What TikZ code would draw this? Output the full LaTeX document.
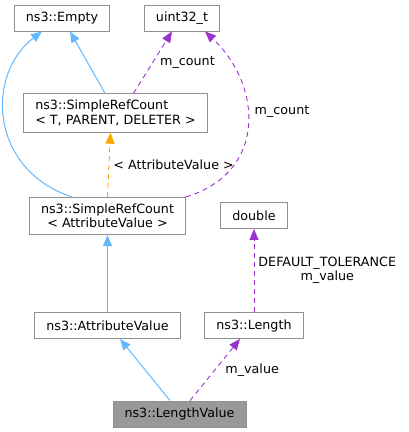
\documentclass[tikz,border=0pt]{standalone}
\usepackage{fontspec}
\setmainfont{DejaVu Sans}
\usepackage{tikz}
\usetikzlibrary{arrows.meta}
\usetikzlibrary{positioning}
\definecolor{boxline}{HTML}{8F8F8F}
\definecolor{inhblue}{HTML}{63B8FF}
\definecolor{usepurple}{HTML}{9A32CD}
\definecolor{tplorange}{HTML}{FFA500}
\definecolor{curgray}{HTML}{999999}
\tikzset{cls/.style={draw=boxline, line width=0.9pt, fill=white,
inner xsep=11.5pt, inner ysep=6.5pt, minimum height=26pt,
font=\fontsize{12.7}{14.3}\selectfont}}

\begin{document}
\begin{tikzpicture}[x=1pt, y=-1pt,
		inh/.style={draw=inhblue, line width=1pt, -{Triangle[length=11pt,width=9pt]}},
		memb/.style={draw=usepurple, line width=0.9pt, dash pattern=on 5pt off 4pt, -{Triangle[length=11pt,width=9pt]}},
		tpl/.style={draw=tplorange, line width=0.9pt, dash pattern=on 5pt off 4pt, -{Triangle[length=11pt,width=9pt]}},
		lbl/.style={font=\fontsize{12.7}{13.5}\selectfont, inner sep=1pt}]
	\useasboundingbox (0,0) rectangle (408,432);
	% classes
	\node[cls] (empty) at (62,18) {ns3::Empty};
	\node[cls] (uint) at (182,18) {uint32\_t};
	\node[cls, align=left] (srct) at (115.5,113) {ns3::SimpleRefCount\\< T, PARENT, DELETER >};
	\node[cls, align=center] (srca) at (107.5,216) {ns3::SimpleRefCount\\< AttributeValue >};
	\node[cls] (dbl) at (254,215.5) {double};
	\node[cls] (av) at (107.5,325.5) {ns3::AttributeValue};
	\node[cls] (len) at (254,325.5) {ns3::Length};
	\node[cls, fill=curgray] (lv) at (179.5,414) {ns3::LengthValue};
	% edges
	\draw[inh] ([xshift=-10.5pt]srct.north) -- ([xshift=8pt]empty.south);
	\draw[inh] ([xshift=-35.5pt]srca.north) .. controls (-10,170) and (-15,75) .. ([xshift=-20pt]empty.south);
	\draw[memb] ([xshift=18pt]srct.north) -- node[lbl, right=6pt] {m\_count} ([xshift=-10pt]uint.south);
	\draw[memb] (srca.north east) .. controls (268,172) and (262,85) .. node[lbl, pos=0.57, right=6pt] {m\_count} ([xshift=23pt]uint.south);
	\draw[tpl] (srca.north) -- node[lbl, right=3pt] {< AttributeValue >} ([xshift=-5pt]srct.south);
	\draw[inh] (av.north) -- (srca.south);
	\draw[memb] (len.north) -- node[lbl, right=3pt, align=center] {DEFAULT\_TOLERANCE\\m\_value} (dbl.south);
	\draw[inh] ([xshift=-9.5pt]lv.north) -- ([xshift=12.5pt]av.south);
	\draw[memb] ([xshift=10.5pt]lv.north) -- node[lbl, right=9pt] {m\_value} ([xshift=-14pt]len.south);
\end{tikzpicture}
\end{document}
